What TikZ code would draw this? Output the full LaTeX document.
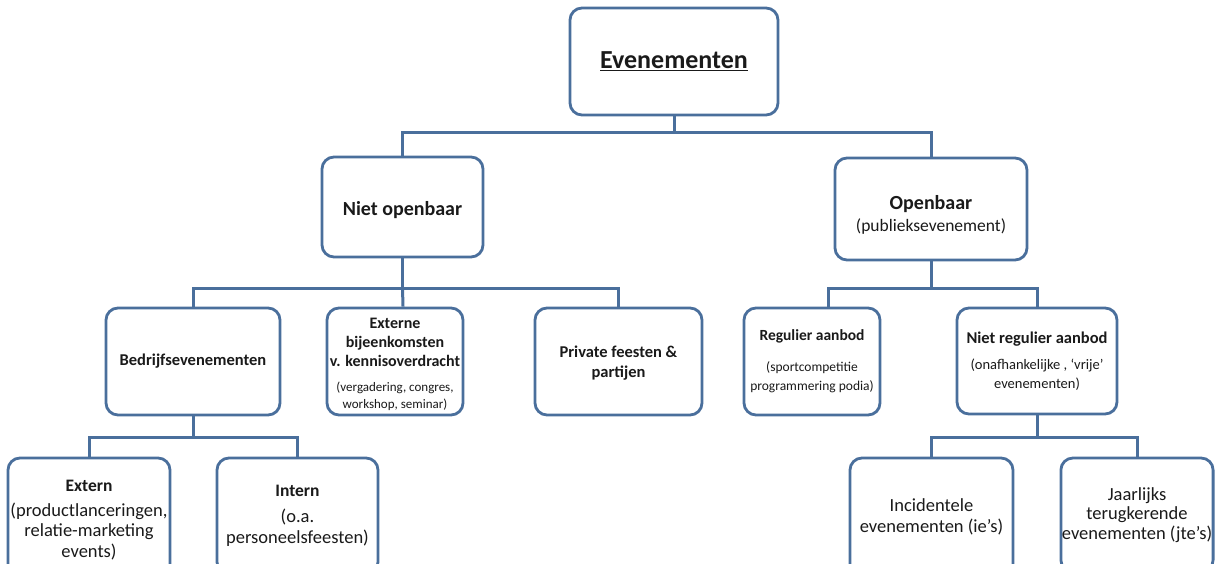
\documentclass[tikz,border=0pt]{standalone}
\usepackage{fontspec}
\setmainfont{Carlito}
\definecolor{boxblue}{HTML}{4A6F9C}
\definecolor{txt}{HTML}{1A1A1A}
\newcommand\fz[2]{\fontsize{#1}{#2}\selectfont}
\begin{document}
\begin{tikzpicture}[x=1pt,y=-1pt,
  box/.style={draw=boxblue, line width=2.8pt, rounded corners=12pt, fill=white,
    align=center, text=txt, inner sep=1pt},
  conn/.style={draw=boxblue, line width=3pt}]
\useasboundingbox (0,0) rectangle (1215,564);
\fill[white] (0,0) rectangle (1215,564);

\node[box, minimum width=208pt, minimum height=107pt, font=\fz{26}{30}\bfseries] (top) at (674,61.5)
  {\underline{Evenementen}};

\node[box, minimum width=161pt, minimum height=100pt, font=\fz{20}{24}\bfseries] (niet) at (402.5,207)
  {\rule{0pt}{20pt}Niet openbaar};
\node[box, minimum width=192pt, minimum height=102pt, font=\fz{17.5}{22.5}] (open) at (931,209)
  {\fz{20}{22}\bfseries\rule{0pt}{26pt}Openbaar\\ (publieksevenement)};

\node[box, minimum width=174pt, minimum height=107pt, font=\fz{16.5}{19}\bfseries] (bedr) at (193,361.5)
  {Bedrijfsevenementen};
\node[box, minimum width=136pt, minimum height=107pt, font=\fz{13}{17}] (ext) at (395,361.5)
  {\fz{16}{19}\bfseries\rule{0pt}{17pt}Externe\\[2pt] \fz{16}{19}\bfseries bijeenkomsten\\[2pt]
   \fz{16}{19}\bfseries v. kennisoverdracht\\[8pt]
   (vergadering, congres,\\ workshop, seminar)};
\node[box, minimum width=167pt, minimum height=107pt, font=\fz{16.5}{20}\bfseries] (priv) at (618.5,361.5)
  {\rule{0pt}{15pt}Private feesten \&\\ partijen};
\node[box, minimum width=136pt, minimum height=107pt, font=\fz{13.5}{19}] (reg) at (812,361.5)
  {\fz{15.5}{19}\bfseries Regulier aanbod\\[12pt]
   (sportcompetitie\\ programmering podia)};
\node[box, minimum width=160pt, minimum height=106pt, font=\fz{14.5}{19}] (nreg) at (1037,361)
  {\fz{16.5}{19}\bfseries Niet regulier aanbod\\[7pt]
   (onafhankelijke , ‘vrije’\\ evenementen)};

\node[box, minimum width=162pt, minimum height=124pt, font=\fz{18.5}{20.5}] (extn) at (89,520)
  {\fz{17.5}{20.5}\bfseries Extern\\[4.5pt]
   (productlanceringen,\\ relatie-marketing\\ events)};
\node[box, minimum width=161pt, minimum height=116pt, font=\fz{18.5}{21}] (intn) at (297.5,516)
  {\fz{17.5}{21}\bfseries Intern\\[5pt]
   (o.a.\\ personeelsfeesten)};
\node[box, minimum width=163pt, minimum height=118pt, font=\fz{18.5}{20.5}] (inc) at (931.5,517)
  {Incidentele\\ evenementen (ie’s)};
\node[box, minimum width=152pt, minimum height=114pt, font=\fz{18.5}{19.5}] (jaar) at (1137,515)
  {Jaarlijks\\ terugkerende\\ evenementen (jte’s)};

\coordinate (j1) at (674,133);
\coordinate (j2) at (402.5,288);
\coordinate (j3) at (931,288);
\coordinate (j4) at (193,437);
\coordinate (j5) at (1037,437);

\draw[conn] (top.south) -- (j1);
\draw[conn] (niet.north) |- (j1) -| (open.north);
\draw[conn] (niet.south) -- (j2);
\draw[conn] (bedr.north) |- (j2) -| (priv.north);
\draw[conn] ([xshift=8pt]ext.north) -- (j2);
\draw[conn] (open.south) -- (j3);
\draw[conn] ([xshift=16pt]reg.north) |- (j3) -| (nreg.north);
\draw[conn] (bedr.south) -- (j4);
\draw[conn] (extn.north) |- (j4) -| (intn.north);
\draw[conn] (nreg.south) -- (j5);
\draw[conn] (inc.north) |- (j5) -| (jaar.north);
\end{tikzpicture}
\end{document}
